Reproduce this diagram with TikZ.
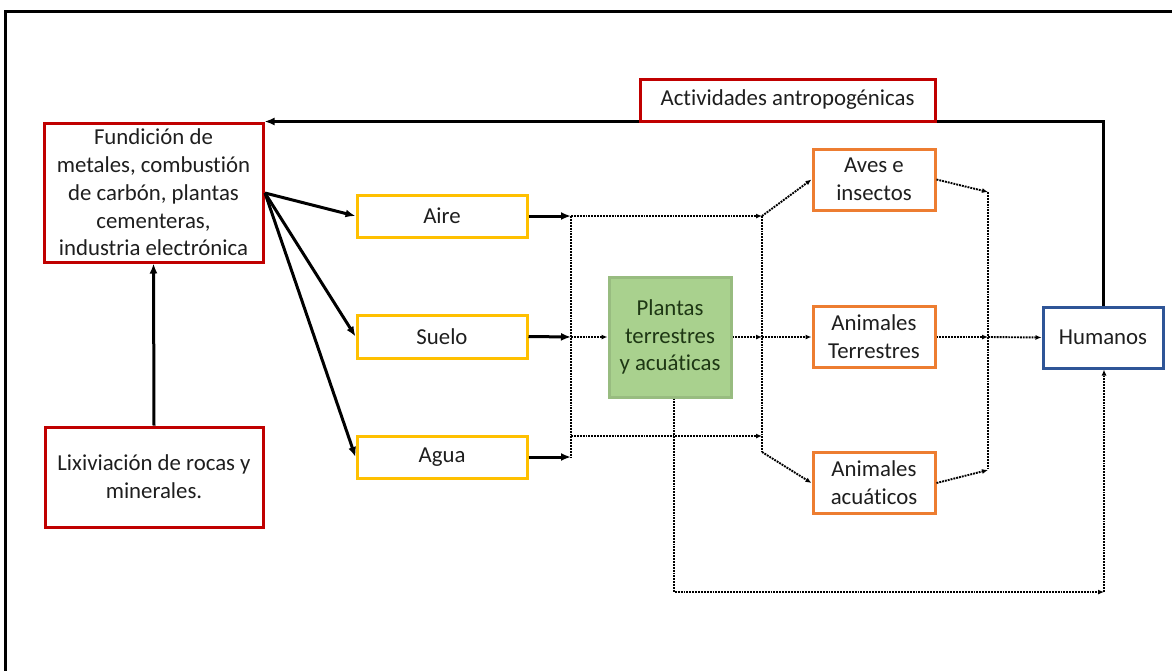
\documentclass[tikz,border=0pt]{standalone}
\usepackage{fontspec}
\setmainfont{Carlito}[Ligatures=NoCommon]
\usetikzlibrary{arrows.meta}
\definecolor{boxred}{RGB}{192,0,0}
\definecolor{boxyellow}{RGB}{255,192,0}
\definecolor{boxorange}{RGB}{237,125,49}
\definecolor{boxblue}{RGB}{47,85,151}
\definecolor{boxgreen}{RGB}{169,209,142}
\definecolor{txt}{RGB}{30,30,30}
\definecolor{greentxt}{RGB}{30,55,20}
\begin{document}
\begin{tikzpicture}[x=1pt,y=-1pt,
  base/.style={draw, line width=3pt, inner sep=0pt, align=center, text=txt,
    font=\fontsize{22.8}{27.8}\selectfont},
  redbox/.style={base, draw=boxred},
  yellowbox/.style={base, draw=boxyellow, minimum width=170pt},
  orangebox/.style={base, draw=boxorange, minimum width=122pt, minimum height=61pt},
  bluebox/.style={base, draw=boxblue},
  greenbox/.style={base, draw=boxgreen!90!black, fill=boxgreen, text=greentxt},
  solidarr/.style={line width=3pt, -{Latex[length=10pt,width=8pt]}},
  dotline/.style={line width=1.9pt, densely dotted},
  dotarr/.style={dotline, -{Latex[length=6pt,width=5pt]}},
]
\useasboundingbox (0,0) rectangle (1172,670);
\clip (0,0) rectangle (1172,670);
\draw[line width=3pt] (5,11) rectangle (1195,700);

% nodes
\node[redbox, minimum width=219pt, minimum height=139pt] (fund) at (153.5,192.5)
  {Fundición de\\metales, combustión\\de carbón, plantas\\cementeras,\\industria electrónica};
\node[redbox, minimum width=218pt, minimum height=100pt] (lix) at (154,477)
  {Lixiviación de rocas y\\minerales.};
\node[yellowbox, minimum height=42pt] (aire) at (442,216) {Aire};
\node[yellowbox, minimum height=43pt] (suelo) at (442,336.5) {Suelo};
\node[yellowbox, minimum height=42pt] (agua) at (442,457) {Agua};
\node[greenbox, minimum width=122pt, minimum height=120pt] (plantas) at (670,337)
  {Plantas\\terrestres\\y acuáticas};
\node[orangebox] (aves) at (874,179.5) {Aves e\\insectos};
\node[orangebox] (terr) at (874,337) {Animales\\Terrestres};
\node[orangebox] (acua) at (874,483) {Animales\\acuáticos};
\node[bluebox, minimum width=120pt, minimum height=61pt] (hum) at (1103,337.5) {Humanos};

% top feedback arrow
\draw[solidarr] (hum.north) |- (fund.north east);
\node[redbox, fill=white, minimum width=295pt, minimum height=42pt] (act) at (787.5,100)
  {Actividades antropogénicas};

% sources
\draw[solidarr] (lix.north) -- (fund.south);
\coordinate (fo) at (265,193);
\draw[solidarr] (fo) -- (aire.west);
\draw[solidarr] (fo) -- (suelo.west);
\draw[solidarr] (fo) -- (agua.west);

% junctions left
\coordinate (j1) at (571,216);
\coordinate (j2) at (571,337);
\coordinate (j3) at (571,436);
\coordinate (j4) at (571,457);
\draw[solidarr] (aire.east) -- (j1);
\draw[solidarr] (suelo.east) -- (j2);
\draw[solidarr] (agua.east) -- (j4);
\draw[dotline] (j1) -- (j4);

% junctions middle
\coordinate (k1) at (762,216);
\coordinate (k2) at (762,337);
\coordinate (k3) at (762,436);
\coordinate (k4) at (762,452);
\draw[dotarr] (j1) -- (k1);
\draw[dotarr] (j2) -- (plantas.west);
\draw[dotarr] (j3) -- (k3);
\draw[dotarr] (plantas.east) -- (k2);
\draw[dotline] (k1) -- (k4);
\draw[dotarr] (k1) -- (aves.west);
\draw[dotarr] (k2) -- (terr.west);
\draw[dotarr] (k4) -- (acua.west);

% junctions right
\coordinate (m1) at (988,192);
\coordinate (m2) at (988,337);
\coordinate (m3) at (988,470);
\draw[dotline] (m1) -- (m3);
\draw[dotarr] (aves.east) -- (m1);
\draw[dotarr] (terr.east) -- (m2);
\draw[dotarr] (acua.east) -- (m3);
\draw[dotarr] (m2) -- (hum.west);

% bottom loop
\coordinate (b1) at (674,592);
\coordinate (b2) at (1104,592);
\draw[dotarr] (b1 |- plantas.south) -- (b1) -- (b2);
\draw[dotarr] (b2) -- (b2 |- hum.south);
\end{tikzpicture}
\end{document}
